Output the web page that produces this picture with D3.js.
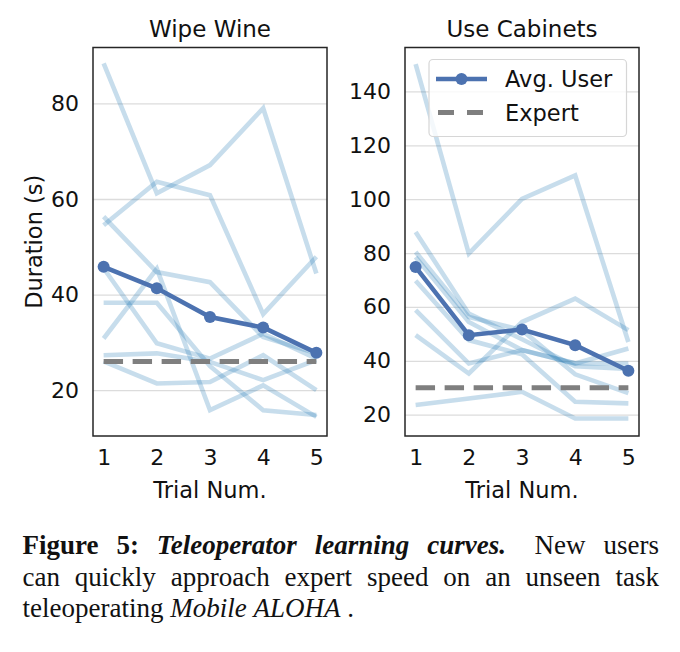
<!DOCTYPE html>
<html>
<head>
<meta charset="utf-8">
<script src="https://cdn.jsdelivr.net/npm/d3@7"></script>
<style>
  body { margin: 0; background: #fff; }
  svg { display: block; }
</style>
</head>
<body>
<div id="chart"></div>
<script>

// data
var trials = [1, 2, 3, 4, 5];

var wipeUsers = [
  [88.4, 61.2, 67.1, 79.0, 44.4],
  [54.5, 63.6, 60.8, 35.9, 47.9],
  [56.3, 44.7, 42.6, 31.1, 27.7],
  [30.8, 45.4, 15.8, 21.0, 14.4],
  [38.3, 38.3, 25.0, 15.8, 14.8],
  [45.5, 29.8, 26.6, 31.8, 26.6],
  [27.3, 27.7, 25.9, 22.1, 26.3],
  [26.0, 21.4, 21.7, 27.3, 20.0]
];
var wipeAvg = [45.8, 41.3, 35.3, 33.1, 27.8];
var wipeExpert = 26.0;
var wipeTicks = [20, 40, 60, 80];

var cabUsers = [
  [150.1, 79.8, 100.1, 108.8, 47.0],
  [49.5, 35.3, 54.4, 63.1, 51.4],
  [23.6, 26.0, 28.5, 18.6, 18.6],
  [58.8, 39.0, 44.0, 39.0, 44.6],
  [87.8, 57.5, 48.0, 38.0, 37.0],
  [80.4, 56.3, 51.4, 35.0, 28.0],
  [78.5, 54.4, 44.0, 39.1, 39.0],
  [69.7, 47.7, 42.4, 24.8, 24.2]
];
var cabAvg = [74.8, 49.5, 51.6, 45.8, 36.3];
var cabExpert = 30.0;
var cabTicks = [20, 40, 60, 80, 100, 120, 140];

var W = 680, H = 652;
var plotTop = 47.5, plotBottom = 436;
var avgColor = "#4c72b0", userColor = "#1f77b4", expertColor = "#7f7f7f";
var sans = "DejaVu Sans, sans-serif";

var svg = d3.select("#chart").append("svg")
    .attr("width", W)
    .attr("height", H);

svg.append("rect").attr("width", W).attr("height", H).attr("fill", "#fff");

function drawPanel(p) {
  var x = d3.scaleLinear().domain([0.8, 5.2]).range([p.left, p.right]);
  var y = d3.scaleLinear().domain(p.yDomain).range([plotBottom, plotTop]);
  var width = p.right - p.left;

  var g = svg.append("g");

  // grid
  g.append("g")
      .attr("transform", "translate(" + p.left + ",0)")
      .call(d3.axisLeft(y).tickValues(p.ticks).tickSize(-width).tickFormat(""))
      .call(function(s) {
        s.select(".domain").remove();
        s.selectAll("line").attr("stroke", "#dcdcdc").attr("stroke-width", 1.3);
      });

  var line = d3.line()
      .x(function(d, i) { return x(trials[i]); })
      .y(function(d) { return y(d); });

  // individual users
  g.selectAll(".user")
      .data(p.users)
    .enter().append("path")
      .attr("class", "user")
      .attr("d", line)
      .attr("fill", "none")
      .attr("stroke", userColor)
      .attr("stroke-opacity", 0.25)
      .attr("stroke-width", 4.6)
      .attr("stroke-linejoin", "miter");

  // expert
  g.append("line")
      .attr("x1", x(trials[0])).attr("x2", x(trials[trials.length - 1]))
      .attr("y1", y(p.expert)).attr("y2", y(p.expert))
      .attr("stroke", expertColor)
      .attr("stroke-width", 5)
      .attr("stroke-dasharray", "19.4,9.6");

  // average user
  g.append("path")
      .attr("d", line(p.avg))
      .attr("fill", "none")
      .attr("stroke", avgColor)
      .attr("stroke-width", 4.5);

  g.selectAll(".dot")
      .data(p.avg)
    .enter().append("circle")
      .attr("cx", function(d, i) { return x(trials[i]); })
      .attr("cy", function(d) { return y(d); })
      .attr("r", 6)
      .attr("fill", avgColor);

  // frame
  g.append("rect")
      .attr("x", p.left).attr("y", plotTop)
      .attr("width", width).attr("height", plotBottom - plotTop)
      .attr("fill", "none")
      .attr("stroke", "#262626")
      .attr("stroke-width", 1.5);

  // y axis labels
  g.append("g")
      .attr("transform", "translate(" + p.left + ",0)")
      .call(d3.axisLeft(y).tickValues(p.ticks).tickSize(0).tickPadding(14))
      .call(function(s) {
        s.select(".domain").remove();
        s.selectAll("text")
          .attr("font-family", sans).attr("font-size", 22).attr("fill", "#111");
      });

  // x axis labels
  g.append("g")
      .attr("transform", "translate(0," + plotBottom + ")")
      .call(d3.axisBottom(x).tickValues(trials).tickSize(0).tickPadding(13).tickFormat(d3.format("d")))
      .call(function(s) {
        s.select(".domain").remove();
        s.selectAll("text")
          .attr("font-family", sans).attr("font-size", 22).attr("fill", "#111");
      });

  g.append("text")
      .attr("x", (p.left + p.right) / 2).attr("y", 498)
      .attr("text-anchor", "middle")
      .attr("font-family", sans).attr("font-size", 22.5).attr("fill", "#111")
      .text("Trial Num.");

  g.append("text")
      .attr("x", (p.left + p.right) / 2).attr("y", 37)
      .attr("text-anchor", "middle")
      .attr("font-family", sans).attr("font-size", 23).attr("fill", "#111")
      .text(p.title);

  return g;
}

drawPanel({ left: 93, right: 327, yDomain: [10.4, 91.7], ticks: wipeTicks,
            users: wipeUsers, avg: wipeAvg, expert: wipeExpert, title: "Wipe Wine" });
var right = drawPanel({ left: 405, right: 639, yDomain: [12.1, 156.3], ticks: cabTicks,
            users: cabUsers, avg: cabAvg, expert: cabExpert, title: "Use Cabinets" });

// y label
svg.append("text")
    .attr("transform", "translate(42," + (plotTop + plotBottom) / 2 + ") rotate(-90)")
    .attr("text-anchor", "middle")
    .attr("font-family", sans).attr("font-size", 22.5).attr("fill", "#111")
    .text("Duration (s)");

// legend
var lg = right.append("g");
lg.append("rect")
    .attr("x", 429).attr("y", 59.5).attr("width", 197.5).attr("height", 77)
    .attr("rx", 4)
    .attr("fill", "#fff").attr("fill-opacity", 0.8)
    .attr("stroke", "#d6d6d6").attr("stroke-width", 1.2);
lg.append("line")
    .attr("x1", 436).attr("x2", 487).attr("y1", 79).attr("y2", 79)
    .attr("stroke", avgColor).attr("stroke-width", 4.5);
lg.append("circle").attr("cx", 461.5).attr("cy", 79).attr("r", 6).attr("fill", avgColor);
lg.append("line")
    .attr("x1", 438).attr("x2", 486).attr("y1", 112.5).attr("y2", 112.5)
    .attr("stroke", expertColor).attr("stroke-width", 5)
    .attr("stroke-dasharray", "16,13");
lg.append("text").attr("x", 505).attr("y", 87)
    .attr("font-family", sans).attr("font-size", 22.5).attr("fill", "#111")
    .text("Avg. User");
lg.append("text").attr("x", 505).attr("y", 120.5)
    .attr("font-family", sans).attr("font-size", 22.5).attr("fill", "#111")
    .text("Expert");

// caption, justified like the paper
var serif = "Liberation Serif, Times New Roman, serif";
var capSize = 27;
var capLeft = 22.5, capRight = 659;

var captionLines = [
  { y: 554, justify: true, words: [
      ["Figure", "b"], ["5:", "b"], ["Teleoperator", "bi"], ["learning", "bi"],
      ["curves.", "bi", 1.6], ["New", "r"], ["users", "r"] ] },
  { y: 585.5, justify: true, words: [
      ["can", "r"], ["quickly", "r"], ["approach", "r"], ["expert", "r"], ["speed", "r"],
      ["on", "r"], ["an", "r"], ["unseen", "r"], ["task", "r"] ] },
  { y: 616.5, justify: false, words: [
      ["teleoperating", "r"], ["Mobile", "i"], ["ALOHA", "i"], [".", "r"] ] }
];

captionLines.forEach(function(ln) {
  var nodes = ln.words.map(function(w) {
    return svg.append("text")
        .attr("y", ln.y)
        .attr("font-family", serif)
        .attr("font-size", capSize)
        .attr("font-weight", w[1].indexOf("b") >= 0 ? "bold" : "normal")
        .attr("font-style", w[1].indexOf("i") >= 0 ? "italic" : "normal")
        .attr("fill", "#111")
        .text(w[0]);
  });
  var widths = nodes.map(function(n) { return n.node().getComputedTextLength(); });
  var total = d3.sum(widths);
  var weights = ln.words.slice(0, -1).map(function(w) { return w[2] || 1; });
  var unit = ln.justify ? (capRight - capLeft - total) / d3.sum(weights) : capSize * 0.25;
  var cx = capLeft;
  nodes.forEach(function(n, i) {
    n.attr("x", cx);
    cx += widths[i] + (i < weights.length ? unit * weights[i] : 0);
  });
});

</script>
</body>
</html>
